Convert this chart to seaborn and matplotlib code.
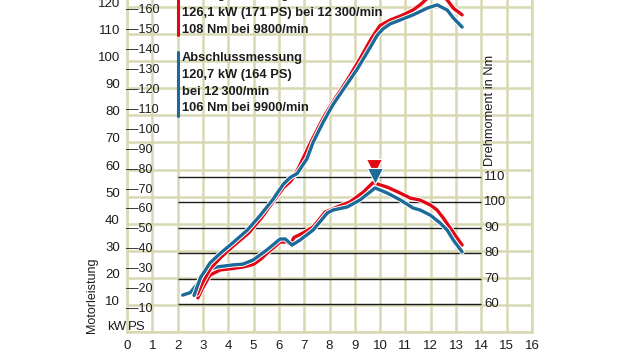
import matplotlib
matplotlib.use("Agg")
import matplotlib.pyplot as plt
import matplotlib.patheffects as pe
from matplotlib.lines import Line2D
from matplotlib.transforms import offset_copy
import numpy as np
import pandas as pd
import seaborn as sns

# ---------------- data ----------------
rpm_ticks = list(range(0, 17))
kw_ticks = [10, 20, 30, 40, 50, 60, 70, 80, 90, 100, 110, 120]
ps_ticks = [10, 20, 30, 40, 50, 60, 70, 80, 90, 100, 110, 120, 130, 140, 150, 160]
nm_ticks = [60, 70, 80, 90, 100, 110]

red_power_rpm = [2.78, 3.0, 3.3, 3.7, 4.2, 4.8, 5.3, 5.8, 6.2, 6.45, 6.6, 6.8, 7.23, 7.75,
                 8.14, 8.7, 9.21, 9.68, 10.0, 10.4, 10.91, 11.3, 11.58, 11.9, 12.3, 12.65,
                 12.89, 13.24]
red_power_kw = [14.0, 18.5, 23.5, 27.5, 31.8, 36.5, 42.0, 48.5, 53.5, 55.5, 57.5, 61.0, 69.5,
                79.0, 85.0, 93.0, 101.0, 108.8, 113.2, 115.2, 117.1, 118.9, 120.8, 123.5,
                126.1, 122.6, 119.6, 117.1]

blue_power_rpm = [2.65, 2.9, 3.28, 3.68, 4.19, 4.74, 5.26, 5.77, 6.17, 6.44, 6.72, 7.11, 7.35,
                  7.75, 8.14, 8.54, 9.09, 9.6, 9.88, 10.12, 10.4, 10.79, 11.3, 11.86, 12.25,
                  12.65, 12.89, 13.24]
blue_power_kw = [13.5, 20.0, 25.5, 29.0, 33.0, 37.5, 43.0, 49.0, 54.5, 57.0, 58.5, 64.0, 70.0,
                 77.5, 84.0, 89.5, 97.0, 105.0, 109.5, 112.0, 113.8, 115.2, 117.1, 119.6,
                 120.8, 118.9, 116.0, 112.6]

red_torque_rpm = [2.8, 3.0, 3.28, 3.68, 4.19, 4.6, 5.0, 5.3, 5.53, 6.05, 6.32, 6.45, 6.6, 6.96,
                  7.35, 7.83, 8.3, 8.81, 9.33, 9.72, 10.28, 10.79, 11.19, 11.58, 11.98, 12.25,
                  12.49, 12.77, 13.04, 13.24]
red_torque_nm = [62.4, 66.5, 71.4, 73.4, 74.0, 74.6, 75.6, 77.8, 80.0, 84.4, 84.4, 83.5, 86.2,
                 88.0, 90.3, 96.2, 98.2, 100.2, 104.0, 107.8, 106.0, 103.7, 101.7, 100.9, 99.0,
                 97.0, 93.9, 89.9, 86.0, 83.2]

blue_torque_rpm = [2.2, 2.5, 2.75, 3.0, 3.2, 3.56, 4.19, 4.58, 4.98, 5.53, 6.05, 6.25, 6.52,
                   6.84, 7.35, 7.91, 8.14, 8.7, 9.21, 9.8, 10.28, 10.79, 11.3, 11.58, 11.98,
                   12.37, 12.65, 12.89, 13.24]
blue_torque_nm = [63.5, 64.5, 67.5, 71.5, 73.4, 74.6, 75.4, 75.7, 77.3, 81.3, 85.6, 85.6, 83.2,
                  85.2, 89.1, 95.8, 97.0, 98.2, 101.0, 105.7, 103.7, 101.0, 97.8, 97.0, 95.0,
                  91.9, 89.1, 85.2, 80.5]

torque_peak_rpm = [9.75, 9.8]
torque_peak_nm = [108, 106]
power_peak_rpm = [12.3, 12.25]
power_peak_kw = [126.1, 120.8]

series_colors = ["#e30613", "#1b6a98"]

legend_red = ["Anfangsmessung", "126,1 kW (171 PS) bei 12\u2009300/min", "108 Nm bei 9800/min"]
legend_blue = ["Abschlussmessung", "120,7 kW (164 PS)", "bei 12\u2009300/min", "106 Nm bei 9900/min"]

# ---------------- style ----------------
sns.set_theme(style="white")
plt.rcParams["font.family"] = ["Liberation Sans", "DejaVu Sans"]
BEIGE = "#d8d9b2"
INK = "#1c1c1c"
FS = 9.5

W, H = 620, 349
fig = plt.figure(figsize=(6.2, 3.49), dpi=100)
fig.patch.set_facecolor("white")


def fx(x):
    return x / W


def fy(y):
    return 1 - y / H


L, B, R, T = 127, 332, 532, 0
rect = [L / W, 1 - B / H, (R - L) / W, (B - T) / H]
kw_top = (B - T) / 2.708
nm_bottom = 60 - (B - 304) / 2.54
nm_top = 60 + (304 - T) / 2.54

# grid axes
ax_g = fig.add_axes(rect)
ax_g.set_xlim(0, 16)
ax_g.set_ylim(0, kw_top)
ax_g.set_xticks(rpm_ticks)
ax_g.set_xticklabels([str(v) for v in rpm_ticks], fontsize=FS, color=INK)
ax_g.set_yticks(np.arange(0, kw_top, 10))
ax_g.set_yticklabels([])
ax_g.grid(True, color=BEIGE, lw=1.8)
ax_g.tick_params(length=0, pad=5.5)
for side in ["left", "bottom", "right"]:
    ax_g.spines[side].set_color(BEIGE)
    ax_g.spines[side].set_linewidth(1.8)
ax_g.spines["top"].set_visible(False)

lab_tr = offset_copy(ax_g.transData, fig=fig, y=3, units="dots")
for k in kw_ticks:
    ax_g.text(-0.28, k, str(k), ha="right", va="center", fontsize=FS, color=INK,
              transform=lab_tr)
for p in ps_ticks:
    ax_g.text(-0.04, p * 0.7355, "\u2014" + str(p), ha="left", va="center", fontsize=9,
              color=INK, transform=lab_tr)

# torque axes
ax_t = fig.add_axes(rect, sharex=ax_g)
ax_t.set_ylim(nm_bottom, nm_top)
ax_t.patch.set_visible(False)
ax_t.hlines(nm_ticks, 2, 14, color=INK, lw=1.0, zorder=1)
for v in nm_ticks:
    ax_t.text(14.1, v, str(v), ha="left", va="center", fontsize=FS, color=INK)
df_t = pd.concat([
    pd.DataFrame({"rpm": red_torque_rpm, "val": red_torque_nm, "s": "a"}),
    pd.DataFrame({"rpm": blue_torque_rpm, "val": blue_torque_nm, "s": "b"}),
])
for (name, g), c in zip(df_t.groupby("s"), series_colors):
    sns.lineplot(data=g, x="rpm", y="val", ax=ax_t, color=c, lw=2.4, sort=False,
                 estimator=None, zorder=3)
ax_t.axis("off")

# power axes
ax_p = fig.add_axes(rect, sharex=ax_g)
ax_p.set_ylim(0, kw_top)
ax_p.patch.set_visible(False)
df_p = pd.concat([
    pd.DataFrame({"rpm": red_power_rpm, "val": red_power_kw, "s": "a"}),
    pd.DataFrame({"rpm": blue_power_rpm, "val": blue_power_kw, "s": "b"}),
])
for (name, g), c in zip(df_p.groupby("s"), series_colors):
    sns.lineplot(data=g, x="rpm", y="val", ax=ax_p, color=c, lw=2.4, sort=False,
                 estimator=None, zorder=3)
ax_p.axis("off")

for a in (ax_t, ax_p):
    for ln in a.lines:
        ln.set_path_effects([pe.Stroke(linewidth=3.8, foreground="white"), pe.Normal()])

# peak markers
t_offsets = [11, 8]
for i, c in enumerate(series_colors):
    ax_t.plot(torque_peak_rpm[i], torque_peak_nm[i], marker="v", ms=12, color=c,
              mec="white", mew=0.8, ls="none", clip_on=False, zorder=5,
              transform=offset_copy(ax_t.transData, fig=fig, y=t_offsets[i], units="points"))
    ax_p.plot(power_peak_rpm[i], power_peak_kw[i], marker="v", ms=9, color=c,
              mec="white", mew=0.8, ls="none", clip_on=False, zorder=5,
              transform=offset_copy(ax_p.transData, fig=fig, y=7, units="points"))

# legend blocks
fig.add_artist(Line2D([fx(178), fx(178)], [fy(-5), fy(35)], color=series_colors[0], lw=2.2))
fig.add_artist(Line2D([fx(178), fx(178)], [fy(52), fy(116)], color=series_colors[1], lw=2.2))
for s, y in zip(legend_red, [-5, 13, 30]):
    fig.text(fx(182), fy(y), s, ha="left", va="center", fontsize=9.3, fontweight="bold",
             color=INK)
for s, y in zip(legend_blue, [58, 75, 92, 108]):
    fig.text(fx(182), fy(y), s, ha="left", va="center", fontsize=9.3, fontweight="bold",
             color=INK)

# axis titles
fig.text(fx(92), fy(333), "Motorleistung", rotation=90, ha="center", va="bottom",
         fontsize=9, color=INK)
fig.text(fx(126), fy(327), "kW", ha="right", va="center", fontsize=FS, color=INK)
fig.text(fx(128), fy(327), "PS", ha="left", va="center", fontsize=FS, color=INK)
fig.text(fx(490), fy(110), "Drehmoment in Nm", rotation=90, ha="center", va="center",
         fontsize=9.3, color=INK)

fig.savefig("out.png", dpi=100, facecolor="white")
